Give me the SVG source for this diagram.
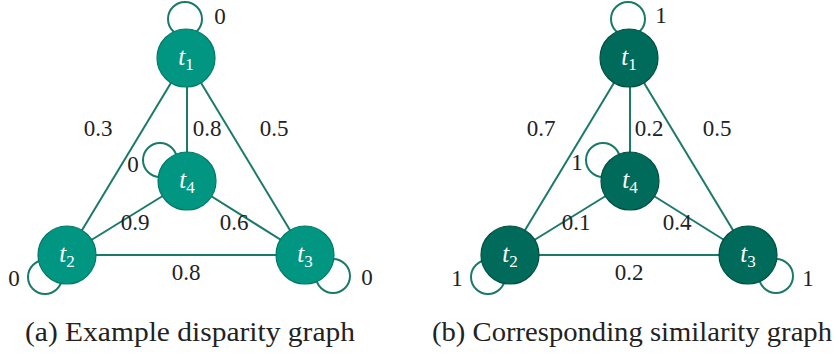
<svg xmlns="http://www.w3.org/2000/svg" width="839" height="355" viewBox="0 0 839 355">
<style>
.e{stroke:#1a7a68;stroke-width:2;fill:none}
.na{fill:#009682;stroke:#007a69;stroke-width:1.2}
.nb{fill:#006b5a;stroke:#00503f;stroke-width:1.2}
</style>
<rect width="839" height="355" fill="#fff"/>
<g id="connectors">
<g id="edges-a">
<line class="e" x1="186" y1="58" x2="67" y2="255"/>
<line class="e" x1="186" y1="58" x2="305" y2="255"/>
<line class="e" x1="187" y1="58" x2="187" y2="181"/>
<line class="e" x1="67" y1="255" x2="305" y2="255"/>
<line class="e" x1="67" y1="255" x2="187" y2="181"/>
<line class="e" x1="187" y1="181" x2="305" y2="255"/>
<circle class="e" cx="185" cy="19" r="17"/>
<circle class="e" cx="160" cy="160" r="17"/>
<circle class="e" cx="45" cy="277" r="17"/>
<circle class="e" cx="333" cy="276" r="17"/>
</g>
<g id="edges-b">
<line class="e" x1="629" y1="58" x2="510" y2="255"/>
<line class="e" x1="629" y1="58" x2="748" y2="255"/>
<line class="e" x1="630" y1="58" x2="630" y2="181"/>
<line class="e" x1="510" y1="255" x2="748" y2="255"/>
<line class="e" x1="510" y1="255" x2="630" y2="181"/>
<line class="e" x1="630" y1="181" x2="748" y2="255"/>
<circle class="e" cx="628" cy="19" r="17"/>
<circle class="e" cx="603" cy="160" r="17"/>
<circle class="e" cx="488" cy="277" r="17"/>
<circle class="e" cx="776" cy="276" r="17"/>
</g>
</g>
<g id="labels-a" fill="#222" text-anchor="middle" font-family="Liberation Serif, serif" font-size="23">
<text x="220" y="24">0</text>
<text x="98" y="136">0.3</text>
<text x="207" y="136">0.8</text>
<text x="274" y="136">0.5</text>
<text x="133" y="172">0</text>
<text x="135" y="230">0.9</text>
<text x="234" y="230">0.6</text>
<text x="14" y="286">0</text>
<text x="186" y="280">0.8</text>
<text x="367" y="285">0</text>
</g>
<g id="labels-b" fill="#222" text-anchor="middle" font-family="Liberation Serif, serif" font-size="23">
<text x="661" y="23">1</text>
<text x="541" y="136">0.7</text>
<text x="649" y="136">0.2</text>
<text x="717" y="136">0.5</text>
<text x="577" y="170">1</text>
<text x="576" y="230">0.1</text>
<text x="677" y="230">0.4</text>
<text x="629" y="280">0.2</text>
<text x="457" y="286">1</text>
<text x="808" y="286">1</text>
</g>
<g id="nodes" fill="#fff" text-anchor="middle" font-family="Liberation Serif, serif" font-size="25">
<g id="a-t1"><circle class="na" cx="186" cy="58" r="29"/><text x="186" y="65"><tspan font-style="italic">t</tspan><tspan font-size="17" dy="5">1</tspan></text></g>
<g id="a-t2"><circle class="na" cx="67" cy="255" r="29"/><text x="67" y="262"><tspan font-style="italic">t</tspan><tspan font-size="17" dy="5">2</tspan></text></g>
<g id="a-t3"><circle class="na" cx="305" cy="255" r="29"/><text x="305" y="262"><tspan font-style="italic">t</tspan><tspan font-size="17" dy="5">3</tspan></text></g>
<g id="a-t4"><circle class="na" cx="187" cy="181" r="29"/><text x="187" y="188"><tspan font-style="italic">t</tspan><tspan font-size="17" dy="5">4</tspan></text></g>
<g id="b-t1"><circle class="nb" cx="629" cy="58" r="29"/><text x="629" y="65"><tspan font-style="italic">t</tspan><tspan font-size="17" dy="5">1</tspan></text></g>
<g id="b-t2"><circle class="nb" cx="510" cy="255" r="29"/><text x="510" y="262"><tspan font-style="italic">t</tspan><tspan font-size="17" dy="5">2</tspan></text></g>
<g id="b-t3"><circle class="nb" cx="748" cy="255" r="29"/><text x="748" y="262"><tspan font-style="italic">t</tspan><tspan font-size="17" dy="5">3</tspan></text></g>
<g id="b-t4"><circle class="nb" cx="630" cy="181" r="29"/><text x="630" y="188"><tspan font-style="italic">t</tspan><tspan font-size="17" dy="5">4</tspan></text></g>
</g>
<g id="captions" fill="#222" font-family="Liberation Serif, serif" font-size="28">
<text x="25" y="341" textLength="330" lengthAdjust="spacingAndGlyphs">(a) Example disparity graph</text>
<text x="432" y="341" textLength="400" lengthAdjust="spacingAndGlyphs">(b) Corresponding similarity graph</text>
</g>
</svg>
